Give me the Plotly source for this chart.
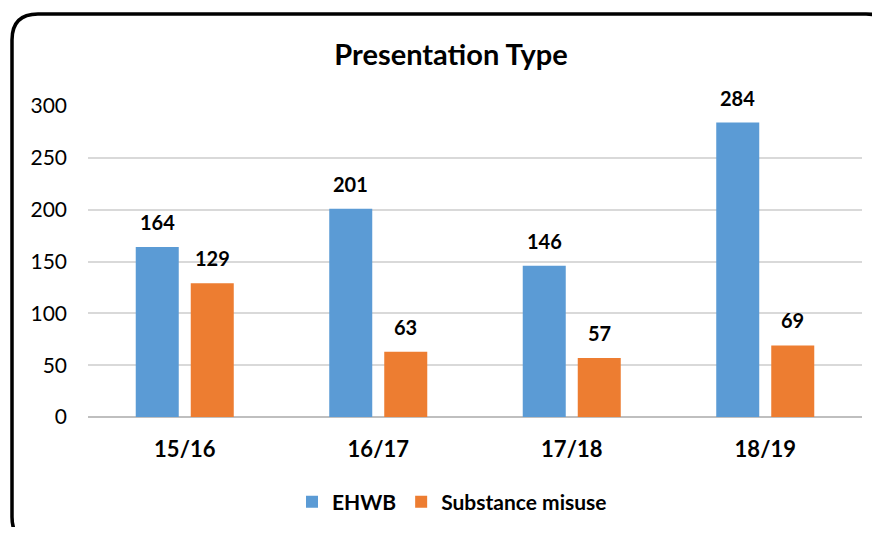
import plotly.graph_objects as go

categories = ["15/16", "16/17", "17/18", "18/19"]
ehwb = [164, 201, 146, 284]
substance = [129, 63, 57, 69]
series_names = ["EHWB", "Substance misuse"]
colors = ["#5B9BD5", "#ED7D31"]
y_ticks = [0, 50, 100, 150, 200, 250, 300]

# page body has an 8px margin; work in reference pixel coords minus OFF
OFF = 8
W, H = 872, 519
ML = 88 - OFF
MT = 106 - OFF
MR = W - (862 - OFF)
MB = H - (417 - OFF)
PW, PH = W - ML - MR, H - MT - MB

FONT = "Lato, Open Sans, sans-serif"

fig = go.Figure()
for name, vals, col in zip(series_names, [ehwb, substance], colors):
    fig.add_trace(go.Bar(x=categories, y=vals, name=f"<b>{name}</b>", marker_color=col,
                         marker_line_width=0))

# data labels
for vals, xs in [(ehwb, -27.5), (substance, 27.5)]:
    for c, v in zip(categories, vals):
        fig.add_annotation(x=c, y=v, xref="x", yref="y", text=f"<b>{v}</b>",
                           showarrow=False, xshift=xs, yshift=25, yanchor="middle",
                           font=dict(family=FONT, size=20, color="#000000"))


def px(x):
    """reference pixel x -> paper"""
    return (x - OFF - ML) / PW


def py(y):
    """reference pixel y -> paper"""
    return (H - MB - (y - OFF)) / PH


# rounded border (reference pixel coords)
L, T, R, B = 12, 14, 892, 543
r = 26
path = (f"M {px(L)},{py(T + r)} "
        f"Q {px(L)},{py(T)} {px(L + r)},{py(T)} "
        f"L {px(R - r)},{py(T)} "
        f"Q {px(R)},{py(T)} {px(R)},{py(T + r)} "
        f"L {px(R)},{py(B - r)} "
        f"Q {px(R)},{py(B)} {px(R - r)},{py(B)} "
        f"L {px(L + r)},{py(B)} "
        f"Q {px(L)},{py(B)} {px(L)},{py(B - r)} Z")
fig.add_shape(type="path", path=path, xref="paper", yref="paper",
              line=dict(color="#000000", width=3.5), layer="above")

fig.update_layout(
    width=W, height=H,
    margin=dict(l=ML, r=MR, t=MT, b=MB, autoexpand=False),
    paper_bgcolor="white", plot_bgcolor="white",
    barmode="group", bargap=0.4315, bargroupgap=0.218,
    title=dict(text="<b>Presentation Type</b>", x=px(451), xanchor="center",
               xref="paper", y=1 - (55 - OFF) / H, yanchor="middle", yref="container",
               font=dict(family=FONT, size=29, color="#000000")),
    legend=dict(orientation="h", x=px(452), xanchor="center",
                y=1 - (502 - OFF) / H, yref="container",
                yanchor="middle", font=dict(family=FONT, size=21, color="#000000"),
                itemwidth=30, traceorder="normal"),
    showlegend=True,
)
fig.update_yaxes(range=[0, 300], tickvals=y_ticks, showgrid=True,
                 gridcolor="#D9D9D9", gridwidth=1.5, zeroline=True,
                 zerolinecolor="#BFBFBF", zerolinewidth=2,
                 ticklabelstandoff=20, automargin=False,
                 tickfont=dict(family=FONT, size=21, color="#000000"))
fig.update_xaxes(tickfont=dict(family=FONT, size=22, color="#000000"),
                 ticklabelstandoff=17, showline=False, automargin=False,
                 tickvals=categories, ticktext=[f"<b>{c}</b>" for c in categories])

fig.write_html("out.html")
